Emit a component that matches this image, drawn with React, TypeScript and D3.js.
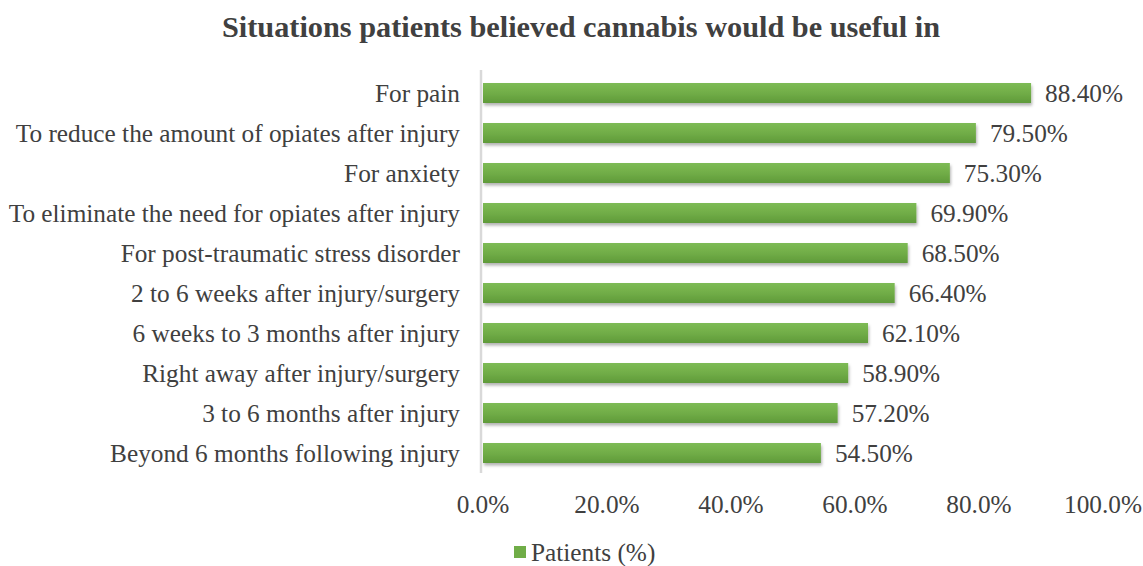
import React from "react";
import * as d3 from "d3";

const categories = [
  "For pain",
  "To reduce the amount of opiates after injury",
  "For anxiety",
  "To eliminate the need for opiates after injury",
  "For post-traumatic stress disorder",
  "2 to 6 weeks after injury/surgery",
  "6 weeks to 3 months after injury",
  "Right away after injury/surgery",
  "3 to 6 months after injury",
  "Beyond 6 months following injury",
];
const values = [88.4, 79.5, 75.3, 69.9, 68.5, 66.4, 62.1, 58.9, 57.2, 54.5];
const ticks = [0, 20, 40, 60, 80, 100];
const title = "Situations patients believed cannabis would be useful in";
const seriesName = "Patients (%)";

export default function App() {
  const W = 1143, H = 566;
  const x = d3.scaleLinear().domain([0, 100]).range([483, 1103]);
  const y = d3.scaleBand<string>().domain(categories).range([73, 473]).paddingInner(0.5).paddingOuter(0.25);
  const font = "'Liberation Serif', 'Times New Roman', serif";
  const txt = "#404040";
  const fs = 25.3;
  return (
    <svg width={W} height={H} style={{ position: "absolute", left: 0, top: 0 }} fontFamily={font}>
      <defs>
        <linearGradient id="bg" x1="0" y1="0" x2="0" y2="1">
          <stop offset="0" stopColor="#7dbb55" />
          <stop offset="0.5" stopColor="#71ad47" />
          <stop offset="1" stopColor="#5f9a3a" />
        </linearGradient>
        <filter id="sh" x="-5%" y="-50%" width="110%" height="220%">
          <feDropShadow dx="1" dy="2.5" stdDeviation="1.5" floodColor="#000" floodOpacity="0.3" />
        </filter>
      </defs>
      <rect width={W} height={H} fill="#fff" />
      <text x={581} y={37} textAnchor="middle" fontSize={30.3} fontWeight="bold" fill={txt}>{title}</text>
      {categories.map((c, i) => {
        const yy = y(c)!;
        const bw = y.bandwidth();
        return (
          <g key={c}>
            <rect x={x(0)} y={yy} width={x(values[i]) - x(0)} height={bw} fill="url(#bg)" filter="url(#sh)" />
            <text x={460} y={yy + bw / 2} dy="0.35em" textAnchor="end" fontSize={fs} fill={txt}>{c}</text>
            <text x={x(values[i]) + 14} y={yy + bw / 2} dy="0.35em" fontSize={fs} fill={txt}>{values[i].toFixed(2)}%</text>
          </g>
        );
      })}
      <line x1={x(0) - 2} x2={x(0) - 2} y1={70} y2={473} stroke="#d9d9d9" strokeWidth={2.5} />
      {ticks.map((t) => (
        <text key={t} x={x(t)} y={504} dy="0.35em" textAnchor="middle" fontSize={fs} fill={txt}>{t.toFixed(1)}%</text>
      ))}
      <rect x={514} y={546} width={12} height={12} fill="#70ad47" />
      <text x={531} y={552} dy="0.35em" fontSize={fs} fill={txt}>{seriesName}</text>
    </svg>
  );
}
